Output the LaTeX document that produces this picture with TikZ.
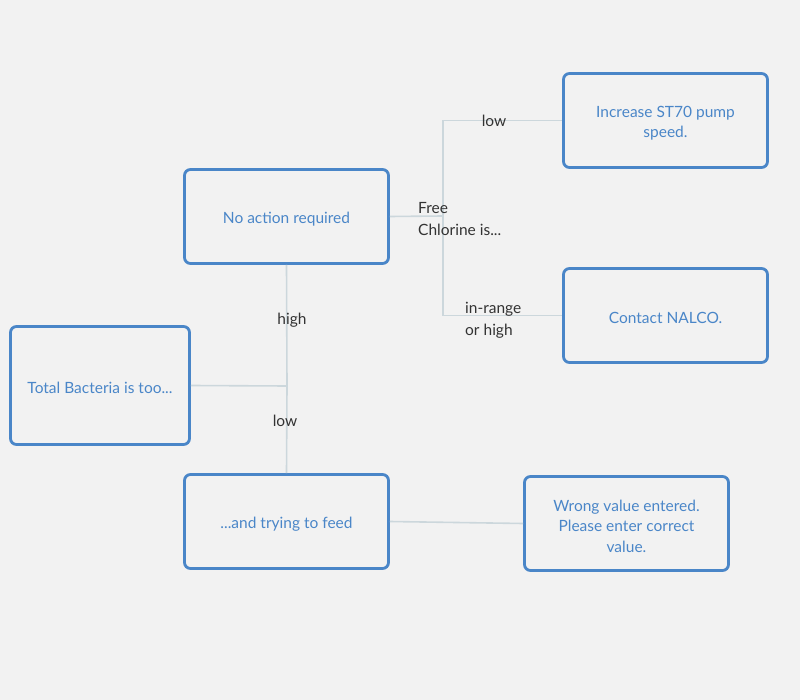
\documentclass[tikz,border=0pt]{standalone}
\usepackage{fontspec}
\setmainfont{Lato}
\definecolor{bg}{HTML}{F2F2F2}
\definecolor{boxblue}{HTML}{4A86C8}
\definecolor{txtblue}{HTML}{4A86C8}
\definecolor{wire}{HTML}{CCD7DC}
\definecolor{lbl}{HTML}{333333}
\newcommand{\toplift}{\rule{0pt}{16.5pt}}
\begin{document}
\begin{tikzpicture}[x=1pt,y=-1pt,
  stepbox/.style={draw=boxblue,line width=2.8pt,rounded corners=6pt,
    minimum width=204pt,minimum height=94pt,align=center,
    text=txtblue,font=\fontsize{15.5}{20.5}\selectfont,inner sep=0pt},
  wirestyle/.style={draw=wire,line width=1.6pt},
  edgelbl/.style={text=lbl,font=\fontsize{15.5}{22}\selectfont,inner sep=0pt,align=left}]
  \fill[bg] (0,0) rectangle (800,700);
  \useasboundingbox (0,0) rectangle (800,700);

  % decision and outcome boxes
  \node[stepbox] (na) at (286.5,216.5) {\toplift No action required};
  \node[stepbox,minimum width=179pt,minimum height=118pt] (tb) at (100,385.5) {\toplift Total Bacteria is too...};
  \node[stepbox] (feed) at (286.5,521.5) {\toplift ...and trying to feed};
  \node[stepbox] (inc) at (665.5,120.5) {\toplift Increase ST70 pump\\speed.};
  \node[stepbox] (nalco) at (665.5,315.5) {\toplift Contact NALCO.};
  \node[stepbox] (wrong) at (626.5,523.5) {\toplift Wrong value entered.\\Please enter correct\\value.};

  % branch points
  \coordinate (j1) at (287,386);
  \coordinate (j2) at (443,216);

  % connectors
  \draw[wirestyle] (tb.east) -- (j1);
  \draw[wirestyle] (j1) -- (na.south);
  \draw[wirestyle] (j1) -- (feed.north);
  \draw[wirestyle] (na.east) -- (j2);
  \draw[wirestyle] (j2) |- (inc.west);
  \draw[wirestyle] (j2) |- (nalco.west);
  \draw[wirestyle] (feed.east) -- (wrong.west);

  % connector labels
  \node[edgelbl] (lhigh) at (292,320) {high};
  \node[edgelbl] (llow) at (285,421) {low};
  \node[edgelbl,anchor=west] (lfree) at (418,219) {Free\\Chlorine is...};
  \node[edgelbl] (llow2) at (494,121) {low};
  \node[edgelbl,anchor=west] (lrange) at (465,320) {in-range\\or high};
\end{tikzpicture}
\end{document}
